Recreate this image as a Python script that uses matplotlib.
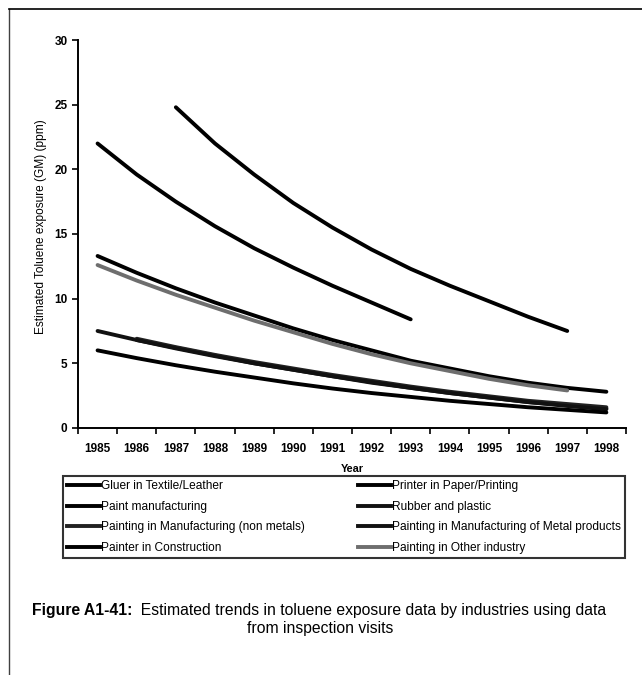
import numpy as np
import matplotlib
matplotlib.use("Agg")
import matplotlib.pyplot as plt
from matplotlib.lines import Line2D

plt.rcParams['font.family'] = ['Liberation Sans', 'DejaVu Sans']

years = list(range(1985, 1999))

# values (ppm), one entry per year starting at start_year
gluer_start = 1987
gluer = [24.8, 22.0, 19.6, 17.4, 15.5, 13.8, 12.3, 11.0, 9.8, 8.6, 7.5]
printer_start = 1985
printer = [22.0, 19.6, 17.5, 15.6, 13.9, 12.4, 11.0, 9.7, 8.4]
paint_mfg_start = 1985
paint_mfg = [13.3, 12.0, 10.8, 9.7, 8.7, 7.7, 6.8, 6.0, 5.2, 4.6, 4.0, 3.5, 3.1, 2.8]
rubber_start = 1985
rubber = [7.5, 6.8, 6.2, 5.6, 5.0, 4.5, 4.0, 3.5, 3.1, 2.7, 2.35, 2.0, 1.75, 1.5]
nonmetal_start = 1986
nonmetal = [6.9, 6.25, 5.65, 5.1, 4.6, 4.1, 3.65, 3.2, 2.8, 2.45, 2.1, 1.85, 1.6]
metal_start = 1986
metal = [6.8, 6.15, 5.55, 5.0, 4.5, 4.0, 3.55, 3.1, 2.7, 2.35, 2.0, 1.7, 1.45]
construction_start = 1985
construction = [6.0, 5.4, 4.85, 4.35, 3.9, 3.45, 3.05, 2.7, 2.4, 2.1, 1.85, 1.6, 1.4, 1.2]
other_start = 1985
other = [12.6, 11.4, 10.3, 9.3, 8.3, 7.4, 6.5, 5.7, 5.0, 4.4, 3.8, 3.3, 2.9]

series = [
    ("Gluer in Textile/Leather", gluer_start, gluer, "black"),
    ("Printer in Paper/Printing", printer_start, printer, "black"),
    ("Paint manufacturing", paint_mfg_start, paint_mfg, "black"),
    ("Rubber and plastic", rubber_start, rubber, "#111111"),
    ("Painting in Manufacturing (non metals)", nonmetal_start, nonmetal, "#222222"),
    ("Painting in Manufacturing of Metal products", metal_start, metal, "#111111"),
    ("Painter in Construction", construction_start, construction, "black"),
    ("Painting in Other industry", other_start, other, "#6e6e6e"),
]

fig = plt.figure(figsize=(6.42, 6.75), dpi=100)
ax = fig.add_axes([0.1215, 0.366, 0.8535, 0.5747])

handles = {}
for name, start, vals, col in series:
    x = np.arange(len(vals)) + (start - years[0]) + 0.5
    ax.plot(x, vals, color=col, lw=2.8, solid_capstyle='round',
            solid_joinstyle='round')
    handles[name] = Line2D([], [], color=col, lw=2.8)

ax.set_xlim(0, len(years))
ax.set_ylim(0, 30)
ax.set_xticks(np.arange(len(years) + 1))
ax.set_xticklabels([])
ax.set_xticks(np.arange(len(years)) + 0.5, minor=True)
ax.set_xticklabels([str(y) for y in years], minor=True, fontsize=8.5)
ax.tick_params(axis='x', which='minor', length=0, pad=11)
ax.tick_params(axis='x', which='major', direction='out', length=4, width=1.2)
ax.set_yticks(range(0, 31, 5))
ax.tick_params(axis='y', direction='out', length=4, width=1.2, labelsize=8.5)
for lab in ax.get_yticklabels() + ax.get_xticklabels(minor=True):
    lab.set_fontweight('bold')

for s in ['top', 'right']:
    ax.spines[s].set_visible(False)
for s in ['left', 'bottom']:
    ax.spines[s].set_linewidth(1.4)

ax.set_ylabel("Estimated Toluene exposure (GM) (ppm)", fontsize=8.6)
ax.yaxis.set_label_coords(-0.056, 0.52)
ax.set_xlabel("Year", fontsize=7.8, fontweight='bold', labelpad=6)

order = ["Gluer in Textile/Leather", "Paint manufacturing",
         "Painting in Manufacturing (non metals)", "Painter in Construction",
         "Printer in Paper/Printing", "Rubber and plastic",
         "Painting in Manufacturing of Metal products", "Painting in Other industry"]
leg = fig.legend([handles[n] for n in order], order, ncol=2, loc='upper left',
                 bbox_to_anchor=(63 / 642, 1 - 476 / 675),
                 fontsize=8.6, handlelength=2.75, handletextpad=0.1,
                 columnspacing=4.4,
                 frameon=True, fancybox=False, edgecolor='black',
                 borderpad=0.35, labelspacing=0.72, borderaxespad=0)
leg.get_frame().set_linewidth(1.5)

# page border lines
fig.add_artist(Line2D([0.014, 0.014], [0.0, 0.986], color='0.25', lw=1.0))
fig.add_artist(Line2D([0.014, 1.0], [0.986, 0.986], color='black', lw=1.2))

# caption
renderer = fig.canvas.get_renderer()
t1 = fig.text(32 / 642, 1 - 610 / 675, "Figure A1-41:", fontsize=11.3,
              fontweight='bold', va='center', ha='left')
w = t1.get_window_extent(renderer).width / fig.bbox.width
fig.text(32 / 642 + w, 1 - 610 / 675,
         "  Estimated trends in toluene exposure data by industries using data",
         fontsize=11.3, va='center', ha='left')
fig.text(320 / 642, 1 - 628 / 675, "from inspection visits", fontsize=11.3,
         va='center', ha='center')

fig.savefig("out.png", dpi=100)
